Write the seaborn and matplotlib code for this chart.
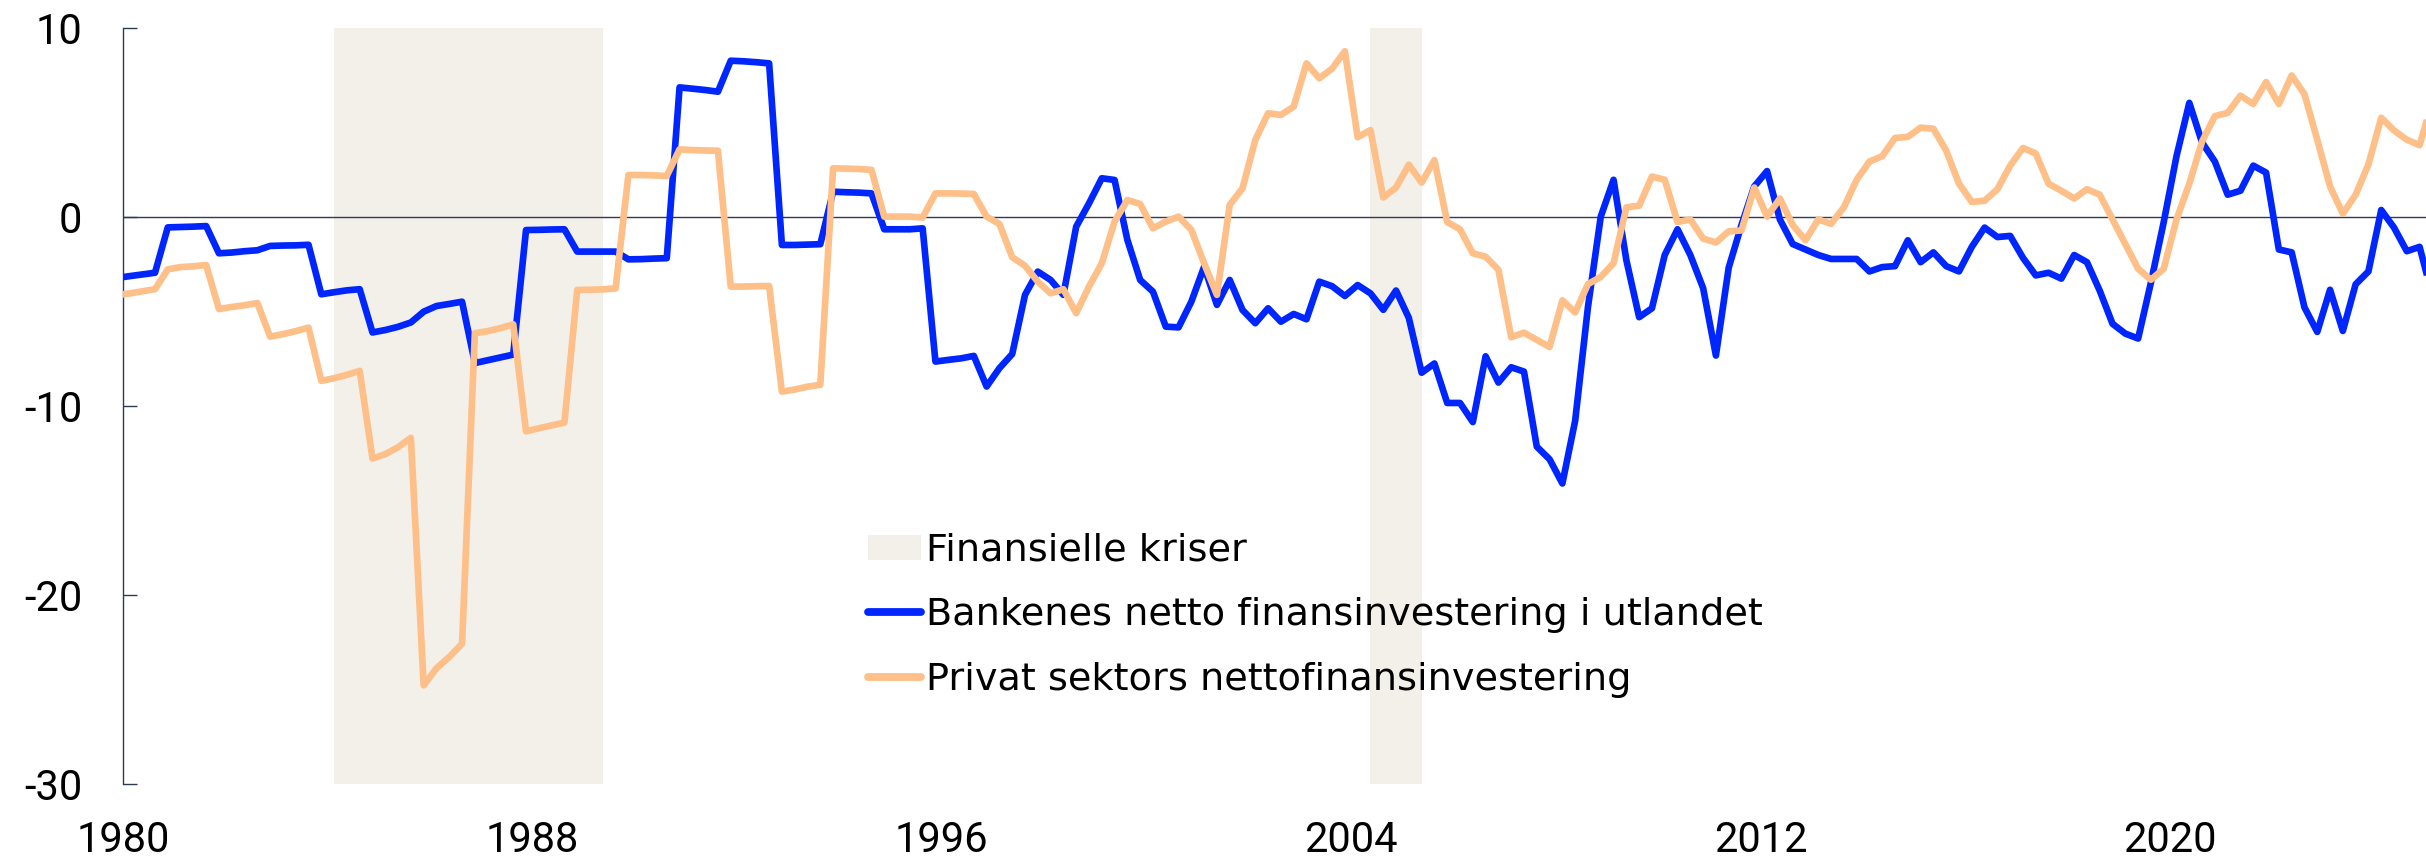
import numpy as np
import pandas as pd
import matplotlib
matplotlib.use("Agg")
import matplotlib.pyplot as plt
import seaborn as sns
from matplotlib.patches import Patch
from matplotlib.lines import Line2D

# Kvartalsdata, første punkt 1979K4, siste 2025K1
start_aar = 1979.875

bank_serie = [
    -3.25,
    -3.15, -3.06, -2.97, -0.57,
    -0.55, -0.53, -0.50, -1.94,
    -1.90, -1.83, -1.78, -1.55,
    -1.53, -1.52, -1.49, -4.11,
    -4.00, -3.90, -3.84, -6.13,
    -6.00, -5.83, -5.60, -5.03,
    -4.73, -4.62, -4.50, -7.75,
    -7.60, -7.45, -7.30, -0.71,
    -0.70, -0.68, -0.67, -1.85,
    -1.85, -1.85, -1.85, -2.26,
    -2.25, -2.22, -2.20, 6.84,
    6.77, 6.70, 6.61, 8.25,
    8.22, 8.17, 8.11, -1.50,
    -1.50, -1.48, -1.46, 1.32,
    1.29, 1.27, 1.23, -0.67,
    -0.67, -0.67, -0.62, -7.67,
    -7.58, -7.50, -7.37, -8.99,
    -8.02, -7.27, -4.14, -2.91,
    -3.35, -4.14, -0.53, 0.70,
    2.03, 1.94, -1.23, -3.35,
    -3.97, -5.82, -5.86, -4.50,
    -2.65, -4.67, -3.35, -4.94,
    -5.64, -4.85, -5.56, -5.15,
    -5.43, -3.44, -3.68, -4.20,
    -3.62, -4.06, -4.93, -3.91,
    -5.36, -8.26, -7.77, -9.86,
    -9.86, -10.87, -7.39, -8.78,
    -7.97, -8.20, -12.17, -12.84,
    -14.12, -10.80, -4.78, 0.00,
    1.95, -2.30, -5.32, -4.85,
    -2.03, -0.67, -2.03, -3.78,
    -7.35, -2.70, -0.44, 1.60,
    2.41, -0.15, -1.45, -1.74,
    -2.03, -2.24, -2.24, -2.24,
    -2.90, -2.67, -2.62, -1.25,
    -2.41, -1.89, -2.62, -2.90,
    -1.60, -0.58, -1.08, -1.02,
    -2.18, -3.11, -2.97, -3.28,
    -2.03, -2.41, -3.92, -5.67,
    -6.19, -6.45, -3.49, -0.29,
    3.20, 6.02, 3.92, 2.91,
    1.16, 1.37, 2.70, 2.33,
    -1.74, -1.89, -4.80, -6.10,
    -3.87, -6.05, -3.58, -2.90,
    0.35, -0.58, -1.83, -1.60,
    -4.20,
]

privat_serie = [
    -4.15,
    -4.07, -3.95, -3.84, -2.79,
    -2.67, -2.63, -2.56, -4.89,
    -4.78, -4.69, -4.57, -6.35,
    -6.22, -6.06, -5.87, -8.69,
    -8.55, -8.37, -8.16, -12.80,
    -12.57, -12.20, -11.70, -24.80,
    -23.90, -23.30, -22.60, -6.17,
    -6.06, -5.90, -5.70, -11.36,
    -11.20, -11.05, -10.90, -3.88,
    -3.87, -3.85, -3.80, 2.20,
    2.20, 2.18, 2.15, 3.56,
    3.52, 3.50, 3.49, -3.70,
    -3.70, -3.68, -3.67, -9.26,
    -9.15, -9.00, -8.90, 2.56,
    2.54, 2.52, 2.47, 0.00,
    0.00, 0.00, -0.05, 1.23,
    1.23, 1.22, 1.20, 0.00,
    -0.39, -2.15, -2.60, -3.44,
    -4.06, -3.84, -5.11, -3.70,
    -2.47, -0.26, 0.88, 0.67,
    -0.62, -0.26, 0.00, -0.70,
    -2.47, -4.14, 0.62, 1.50,
    4.06, 5.47, 5.38, 5.82,
    8.11, 7.32, 7.83, 8.75,
    4.20, 4.58, 1.01, 1.54,
    2.75, 1.80, 2.99, -0.29,
    -0.67, -1.94, -2.12, -2.81,
    -6.38, -6.14, -6.52, -6.90,
    -4.43, -5.07, -3.57, -3.19,
    -2.46, 0.49, 0.58, 2.12,
    1.95, -0.29, -0.15, -1.16,
    -1.37, -0.78, -0.73, 1.54,
    0.00, 0.96, -0.44, -1.25,
    -0.15, -0.38, 0.49, 1.95,
    2.91, 3.20, 4.16, 4.22,
    4.71, 4.65, 3.49, 1.74,
    0.78, 0.84, 1.45, 2.70,
    3.63, 3.34, 1.74, 1.37,
    0.96, 1.45, 1.16, -0.15,
    -1.45, -2.76, -3.34, -2.76,
    -0.15, 1.74, 3.98, 5.32,
    5.49, 6.40, 5.96, 7.12,
    5.96, 7.47, 6.48, 4.07,
    1.60, 0.15, 1.16, 2.76,
    5.23, 4.56, 4.07, 3.78,
    6.10,
]

kriser = [(1984.125, 1989.375), (2004.375, 2005.375)]

serie_navn = [
    "Bankenes netto finansinvestering i utlandet",
    "Privat sektors nettofinansinvestering",
]
krise_navn = "Finansielle kriser"

x_ticks = [1980, 1988, 1996, 2004, 2012, 2020]
y_ticks = [-30, -20, -10, 0, 10]

farger = {serie_navn[0]: "#0026FF", serie_navn[1]: "#FEC088"}
krise_farge = "#F3F0EA"
akse_farge = "#2E3B55"

# Lang tabell for seaborn
tid = start_aar + np.arange(len(bank_serie)) / 4
df = pd.concat([
    pd.DataFrame({"tid": tid, "verdi": bank_serie, "serie": serie_navn[0]}),
    pd.DataFrame({"tid": tid, "verdi": privat_serie, "serie": serie_navn[1]}),
], ignore_index=True)

sns.set_theme(style="white")
plt.rcParams["font.family"] = ["DejaVu Sans"]
plt.rcParams["axes.unicode_minus"] = False
plt.rcParams["text.color"] = "black"
plt.rcParams["xtick.labelcolor"] = "black"
plt.rcParams["ytick.labelcolor"] = "black"
tick_size = 30
legend_size = 27.5
lw = 4.8

fig = plt.figure(figsize=(24.26, 8.61), dpi=100)
ax = fig.add_axes([0.0507, 0.0899, 0.9493, 0.878])

for fra, til in kriser:
    ax.axvspan(fra, til, color=krise_farge, lw=0, zorder=0)

ax.axhline(0, color=akse_farge, lw=1.0, zorder=1)

sns.lineplot(
    data=df, x="tid", y="verdi", hue="serie", hue_order=serie_navn,
    palette=farger, linewidth=lw, legend=False, ax=ax, zorder=3,
    solid_joinstyle="round", solid_capstyle="butt",
)

ax.set_xlim(1980, 2025)
ax.set_ylim(-30, 10)
ax.set_xticks(x_ticks)
ax.set_yticks(y_ticks)
ax.set_xlabel("")
ax.set_ylabel("")

for side in ["top", "right", "bottom"]:
    ax.spines[side].set_visible(False)
ax.spines["left"].set_color(akse_farge)
ax.spines["left"].set_linewidth(1.0)

ax.tick_params(axis="y", direction="in", length=10, width=1.0,
               color=akse_farge, pad=29.5, left=True)
ax.tick_params(axis="x", length=0, pad=26)
for lab in ax.get_xticklabels() + ax.get_yticklabels():
    lab.set_family(["Roboto", "DejaVu Sans"])
    lab.set_fontsize(tick_size)

handles = [
    Patch(facecolor=krise_farge, edgecolor="none"),
    Line2D([], [], color=farger[serie_navn[0]], lw=5.6, solid_capstyle="round"),
    Line2D([], [], color=farger[serie_navn[1]], lw=5.6, solid_capstyle="round"),
]
ax.legend(
    handles, [krise_navn] + serie_navn,
    loc="upper left", bbox_to_anchor=(0.3235, 0.332),
    frameon=False, fontsize=legend_size, borderpad=0, borderaxespad=0,
    handlelength=1.4, handleheight=0.62, handletextpad=0.12,
    labelspacing=0.75,
)

fig.savefig("out.png", dpi=100, facecolor="white")
